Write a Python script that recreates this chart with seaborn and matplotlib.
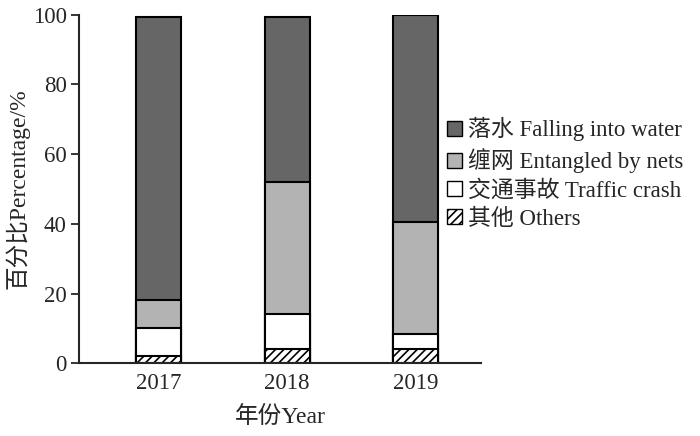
import numpy as np
import seaborn as sns
import matplotlib.pyplot as plt
from matplotlib.patches import Patch

# -------------------------------
# Data (percent by cause)
# -------------------------------
years = ["2017", "2018", "2019"]
others = [2.0, 4.0, 4.0]
traffic = [8.0, 10.0, 4.5]
entangled = [8.0, 38.0, 32.0]
falling = [81.5, 47.5, 59.5]

labels = ["落水 Falling into water", "缠网 Entangled by nets",
          "交通事故 Traffic crash", "其他 Others"]

sns.set_style("ticks")
plt.rcParams["font.family"] = ["Liberation Serif", "Noto Sans CJK SC"]
plt.rcParams["hatch.linewidth"] = 1.2

fig = plt.figure(figsize=(7, 4.36), dpi=100)
ax = fig.add_axes([0.113, 0.167, 0.574, 0.799])

# cumulative tops, drawn tallest first so each layer covers the one below
s1 = np.array(others)
s2 = s1 + np.array(traffic)
s3 = s2 + np.array(entangled)
s4 = s3 + np.array(falling)

layers = [(s4, "#666666", ""), (s3, "#b3b3b3", ""),
          (s2, "white", ""), (s1, "white", "////")]
for tops, col, hatch in layers:
    sns.barplot(x=years, y=tops, color=col, edgecolor="black", linewidth=1.5,
                width=0.35, saturation=1, hatch=hatch, ax=ax)

ax.set_xlim(-0.62, 2.51)
ax.set_ylim(0, 100)
ax.set_yticks([0, 20, 40, 60, 80, 100])
ax.tick_params(axis="y", direction="out", length=6, width=1.3, labelsize=16.5, pad=3)
ax.tick_params(axis="x", length=0, labelsize=16.5, pad=7)
for sp in ["left", "bottom"]:
    ax.spines[sp].set_linewidth(1.5)
sns.despine(ax=ax)

ax.set_xlabel("年份Year", fontsize=17, labelpad=9)
ax.set_ylabel("百分比Percentage/%", fontsize=17, labelpad=2)

handles = [Patch(facecolor="#666666", edgecolor="black"),
           Patch(facecolor="#b3b3b3", edgecolor="black"),
           Patch(facecolor="white", edgecolor="black"),
           Patch(facecolor="white", edgecolor="black", hatch="////")]
fig.legend(handles, labels, loc="upper left", bbox_to_anchor=(0.625, 0.752),
           frameon=False, fontsize=16.5, handlelength=0.65, handleheight=0.65,
           handletextpad=0.3, labelspacing=0.3, borderaxespad=0)

fig.savefig("out.png", dpi=100)
